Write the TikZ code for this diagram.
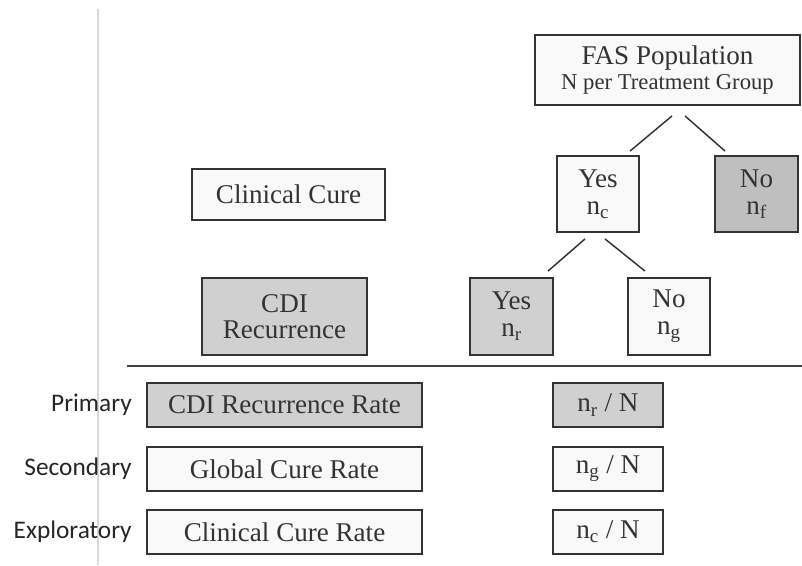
\documentclass[tikz,border=0pt]{standalone}
\usepackage{fontspec}
\setmainfont{Liberation Serif}
\newfontfamily\labelfont{Carlito}
\usepackage{tikz}
\usetikzlibrary{positioning,calc}
\newcommand\figsmallfont{\fontsize{17}{19}\selectfont}
\tikzset{
  figfont/.style={font=\fontsize{20.3}{22}\selectfont},
  figbox/.style={draw=black!80, line width=1.4pt, align=center, inner sep=0pt, text=black!80, fill=gray!5},
  figboxgray/.style={figbox, fill=gray!37},
  figboxdark/.style={figbox, fill=gray!50},
  figsize/.style 2 args={minimum width=#1*0.75pt, minimum height=#2*0.75pt},
  figlink/.style={draw=black!80, line width=1.1pt},
  figlabel/.style={font=\labelfont\fontsize{19}{21}\selectfont, text=black!85, anchor=east, inner sep=0pt},
}

\begin{document}
\begin{tikzpicture}[figfont, x=0.75pt, y=-0.75pt]
			\useasboundingbox (0,0) rectangle (802,565);
			% Side rule
			\draw[gray!30, line width=1pt] (98,9) -- (98,565);

			% Tree nodes
			\node[figbox, figsize={265}{70}] (fas) at (667.5,70)
				{FAS Population\\[-3pt]{\figsmallfont N per Treatment Group}};
			\node[figbox, figsize={82}{76}] (yesc) at (598,194) {Yes\\[-2pt]n\textsubscript{c}};
			\node[figboxdark, figsize={83}{76}] (nof) at (756.5,194) {No\\[-2pt]n\textsubscript{f}};
			\node[figboxgray, figsize={83}{77}] (yesr) at (511.5,316.5) {Yes\\[-2pt]n\textsubscript{r}};
			\node[figbox, figsize={82}{77}] (nog) at (669,316.5) {No\\[-2pt]n\textsubscript{g}};

			% Row titles
			\node[figbox, figsize={193}{51}] (clin) at (288.5,194.5) {Clinical Cure};
			\node[figboxgray, figsize={165}{77}] (cdi) at (284.5,316.5) {CDI\\[-2pt]Recurrence};

			% Tree links
			\draw[figlink] ($(fas.south)+(4.5,10)$) -- ($(yesc.north)+(32,-4)$);
			\draw[figlink] ($(fas.south)+(17.5,10)$) -- ($(nof.north)+(-31.5,-4)$);
			\draw[figlink] ($(yesc.south)+(-13,6)$) -- ($(yesr.north)+(36.5,-6)$);
			\draw[figlink] ($(yesc.south)+(7,6)$) -- ($(nog.north)+(-24,-6)$);

			% Separator
			\coordinate (sepL) at (127,366);
			\coordinate (sepR) at (802,366);
			\draw[draw=black!75, line width=1.5pt] (sepL) -- (sepR);

			% Endpoints
			\node[figboxgray, figsize={275}{44}] (rprim) at (284.5,405) {CDI Recurrence Rate};
			\node[figbox, figsize={275}{44}] (rsec) at (284.5,469) {Global Cure Rate};
			\node[figbox, figsize={275}{44}] (rexp) at (284.5,532) {Clinical Cure Rate};
			\node[figboxgray, figsize={110}{44}] (qprim) at (608,405) {n\textsubscript{r} / N};
			\node[figbox, figsize={110}{44}] (qsec) at (608,469) {n\textsubscript{g} / N};
			\node[figbox, figsize={110}{44}] (qexp) at (608,532) {n\textsubscript{c} / N};

			\node[figlabel] (lprim) at (132,405) {Primary};
			\node[figlabel] (lsec) at (132,469) {Secondary};
			\node[figlabel] (lexp) at (132,532) {Exploratory};
		\end{tikzpicture}
\end{document}
